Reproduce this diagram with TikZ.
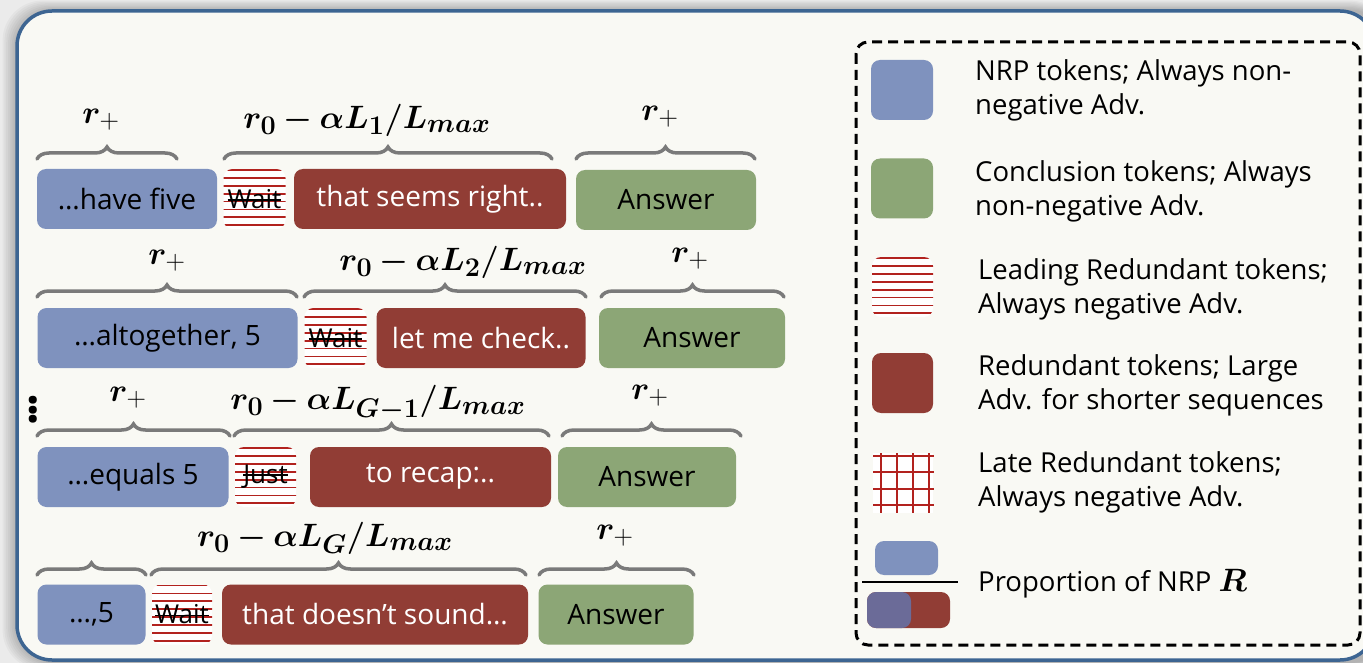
\documentclass[tikz,border=0pt]{standalone}
\usepackage{fontspec}
\setmainfont{Open Sans}
\usepackage{amsmath}
\usepackage{bm}
\usepackage{graphicx}
\usetikzlibrary{decorations.pathreplacing}
\usetikzlibrary{calc}

\newcommand{\strk}[1]{\setbox0\hbox{#1}\rlap{\rule[0.3em]{\wd0}{1.6pt}}\box0}
\newcommand{\mlbl}[1]{\scalebox{1.3}{$#1$}}

\definecolor{nrpblue}{RGB}{127,146,190}
\definecolor{conclgreen}{RGB}{140,166,118}
\definecolor{redundred}{RGB}{145,61,53}
\definecolor{hatchred}{RGB}{178,34,30}
\definecolor{propviolet}{RGB}{107,107,152}
\definecolor{frameblue}{RGB}{61,101,146}
\definecolor{bggray}{RGB}{249,249,244}
\definecolor{bracegray}{RGB}{122,122,122}

\begin{document}
\begin{tikzpicture}[x=1pt, y=-1pt]
\tikzset{tok/.style = {rectangle, rounded corners=9pt, inner sep=0pt, minimum height=60pt, font=\fontsize{28}{32}\selectfont}}
\tikzset{nrp/.style = {tok, fill=nrpblue}}
\tikzset{concl/.style = {tok, fill=conclgreen}}
\tikzset{redund/.style = {tok, fill=redundred, text=white}}
\tikzset{lead/.style = {tok, fill=white, font=\fontsize{26}{30}\selectfont, path picture={
   \foreach \k in {0,...,7}
     {\draw[hatchred, line width=1.8pt] ($(path picture bounding box.north west)+(-2,1+\k*7.9)$) -- ++(90,0);}}}}
\tikzset{brc/.style = {decorate, decoration={brace, amplitude=12pt}, draw=bracegray, line width=3.5pt, line cap=round}}
\tikzset{lbl/.style = {inner sep=0pt, font=\fontsize{24.88}{30}\selectfont}}
\tikzset{legtxt/.style = {anchor=west, align=left, inner sep=0pt, font=\fontsize{27.5}{34}\selectfont}}

\useasboundingbox (0,0) rectangle (1363,663);
\clip (0,0) rectangle (1363,663);

% frame with soft shadow
\fill[white!92!black] (0,0) rectangle (1363,663);
\foreach \s in {1,...,8}
   {\fill[black, opacity=0.03, rounded corners=40pt] (17-\s*1.8, 11-\s*1.3) rectangle (1390, 662+\s);}
\draw[frameblue, line width=3.5pt, fill=bggray, rounded corners=35pt] (17,11) rectangle (1375,660);

% row 1
\node[nrp, minimum width=180pt] (nrpA) at (127,199) {…have five};
\node[lead, minimum width=62pt] (leadA) at (254.5,199) {\strk{Wait}};
\node[redund, minimum width=272pt] (redA) at (430,199) {that seems right..};
\node[concl, minimum width=180pt] (ansA) at (666,200) {Answer};
\draw[brc] (37,159) -- (177,159);
\draw[brc] (224,159) -- (552,159);
\draw[brc] (576,159) -- (755,159);
\node[lbl] (rA1) at (101,120) {\mlbl{\bm{r}_{+}}};
\node[lbl] (rA2) at (367,120) {\mlbl{\bm{r_0 - \alpha L_1/L_{max}}}};
\node[lbl] (rA3) at (660,117) {\mlbl{\bm{r}_{+}}};

% row 2
\node[nrp, minimum width=260pt] (nrpB) at (167.5,338) {…altogether, 5};
\node[lead, minimum width=62pt] (leadB) at (335.5,338) {\strk{Wait}};
\node[redund, minimum width=209pt] (redB) at (481,338) {let me check..};
\node[concl, minimum width=186pt] (ansB) at (692,338) {Answer};
\draw[brc] (37,297) -- (297,297);
\draw[brc] (304,297) -- (586,297);
\draw[brc] (601,297) -- (784,297);
\node[lbl] (rB1) at (167,261) {\mlbl{\bm{r}_{+}}};
\node[lbl] (rB2) at (463,262) {\mlbl{\bm{r_0 - \alpha L_2/L_{max}}}};
\node[lbl] (rB3) at (690,259) {\mlbl{\bm{r}_{+}}};

% row 3
\node[lbl] (vdt) at (33,404) {\scalebox{1.9}{$\bm{\vdots}$}};
\node[nrp, minimum width=191pt] (nrpC) at (133,477) {…equals 5};
\node[lead, minimum width=61pt] (leadC) at (265.5,477) {\strk{Just}};
\node[redund, minimum width=241pt] (redC) at (430.5,477) {to recap:..};
\node[concl, minimum width=178pt] (ansC) at (647,477) {Answer};
\draw[brc] (37,436) -- (230,436);
\draw[brc] (234,436) -- (549,436);
\draw[brc] (562,436) -- (741,436);
\node[lbl] (rC1) at (128,398) {\mlbl{\bm{r}_{+}}};
\node[lbl] (rC2) at (378,403) {\mlbl{\bm{r_0 - \alpha L_{G-1}/L_{max}}}};
\node[lbl] (rC3) at (650,396) {\mlbl{\bm{r}_{+}}};

% row 4
\node[nrp, minimum width=108pt] (nrpD) at (91.5,614.5) {…,5};
\node[lead, minimum width=60pt] (leadD) at (182,614.5) {\strk{Wait}};
\node[redund, minimum width=306pt] (redD) at (375,614.5) {that doesn't sound…};
\node[concl, minimum width=155pt] (ansD) at (616,614.5) {Answer};
\draw[brc] (37,575) -- (146,575);
\draw[brc] (151,575) -- (526,575);
\draw[brc] (539,575) -- (694,575);
\node[lbl] (rD2) at (325,538) {\mlbl{\bm{r_0 - \alpha L_G/L_{max}}}};
\node[lbl] (rD3) at (615,536) {\mlbl{\bm{r}_{+}}};

% legend
\draw[black, line width=3pt, dash pattern=on 10pt off 6pt, rounded corners=12pt] (856,42) rectangle (1360,645);
\node[nrp, minimum width=62pt] (kNrp) at (902,90) {};
\node[concl, minimum width=62pt] (kConcl) at (902,188.5) {};
\node[lead, minimum width=61pt] (kLead) at (902.5,287) {};
\node[redund, minimum width=61pt] (kRed) at (902.5,383) {};
\fill[white] (873,453) rectangle (933,513);
\foreach \x in {881, 897, 913, 929}
   {\draw[hatchred, line width=2.5pt] (\x,453) -- (\x,513);}
\foreach \y in {456, 472, 489, 505}
   {\draw[hatchred, line width=2.5pt] (873,\y) -- (934,\y);}
\node[nrp, minimum width=63pt, minimum height=34pt] (kTop) at (906.5,558) {};
\draw[black, line width=2pt] (862,582) -- (958,582);
\node[redund, minimum width=83pt, minimum height=36pt] (kAll) at (908.5,610) {};
\node[tok, fill=propviolet, minimum width=44pt, minimum height=36pt] (kPart) at (889,610) {};

\node[legtxt] (tNrp) at (975,90) {NRP tokens; Always non-\\negative Adv.};
\node[legtxt] (tConcl) at (975,191) {Conclusion tokens; Always\\non-negative Adv.};
\node[legtxt] (tLead) at (978,289) {Leading Redundant tokens;\\Always negative Adv.};
\node[legtxt] (tRed) at (978,385) {Redundant tokens; Large\\Adv. for shorter sequences};
\node[legtxt] (tLate) at (978,482) {Late Redundant tokens;\\Always negative Adv.};
\node[legtxt] (tProp) at (978,584) {Proportion of NRP \mlbl{\bm{R}}};
\end{tikzpicture}
\end{document}
